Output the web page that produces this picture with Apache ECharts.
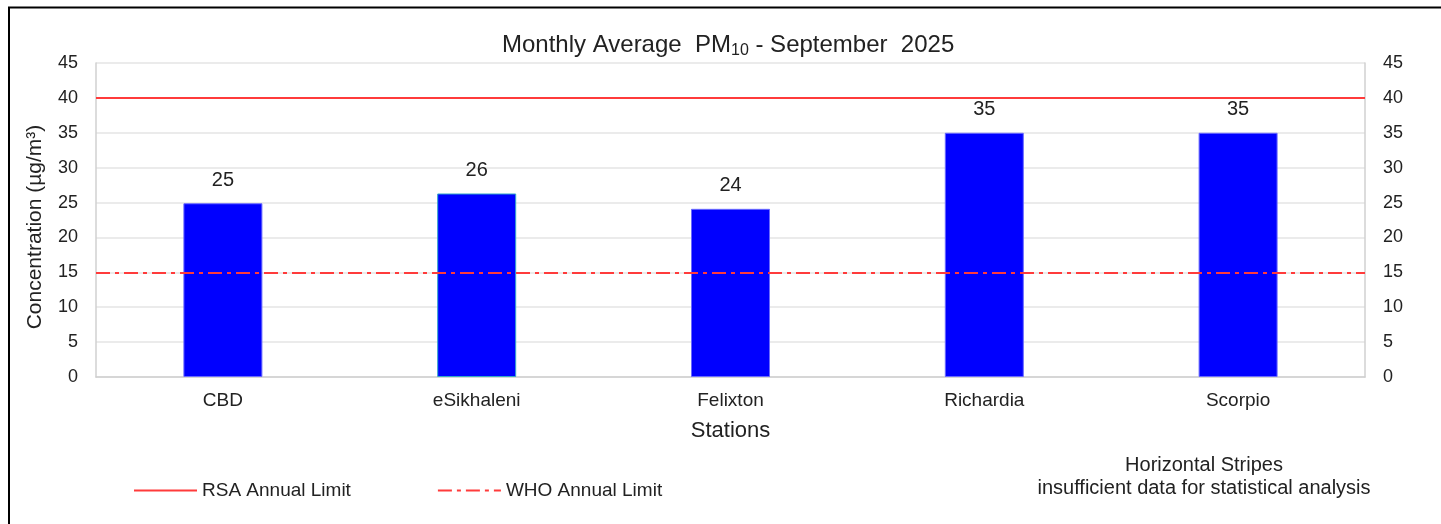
<!DOCTYPE html>
<html>
<head>
<meta charset="utf-8">
<script src="https://cdn.jsdelivr.net/npm/echarts@6/dist/echarts.min.js"></script>
<style>
  html, body { margin: 0; padding: 0; background: #fff; }
  #chart { width: 1441px; height: 524px; }
</style>
</head>
<body>
<div id="chart"></div>
<script>
const stations = ['CBD', 'eSikhaleni', 'Felixton', 'Richardia', 'Scorpio'];
const pm10 = [24.9, 26.3, 24.1, 35.0, 35.0];
const rsaLimit = 40;
const whoLimit = 15;
const yTicks = { min: 0, max: 45, interval: 5 };

const font = '"Liberation Sans", Arial, sans-serif';
const chart = echarts.init(document.getElementById('chart'));

const axisLabel = { color: '#222', fontSize: 18, fontFamily: font };

chart.setOption({
  textStyle: { fontFamily: font },
  animation: false,
  title: {
    text: '{t|Monthly Average  PM}{s|10}{t| - September  2025}',
    left: 497,
    top: 27,
    textStyle: {
      fontWeight: 'normal',
      rich: {
        t: { fontSize: 24, color: '#222', fontFamily: font, fontWeight: 'normal' },
        s: { fontSize: 16, color: '#222', fontFamily: font, fontWeight: 'normal', padding: [11, 0, 0, 0] }
      }
    }
  },
  grid: { left: 96, right: 76, top: 63, bottom: 147 },
  legend: {
    left: 128,
    top: 476,
    itemWidth: 63,
    itemHeight: 10,
    itemGap: 86,
    itemStyle: { opacity: 0 },
    textStyle: { color: '#222', fontSize: 19, fontFamily: font },
    data: ['RSA Annual Limit', 'WHO Annual Limit']
  },
  xAxis: {
    type: 'category',
    data: stations,
    name: 'Stations',
    nameLocation: 'middle',
    nameGap: 43,
    nameTextStyle: { color: '#222', fontSize: 22, fontFamily: font },
    axisLine: { lineStyle: { color: '#d0d0d0', width: 1.5 } },
    axisTick: { show: false },
    axisLabel: { ...axisLabel, fontSize: 19, margin: 14 }
  },
  yAxis: [
    {
      type: 'value',
      ...yTicks,
      name: 'Concentration (µg/m³)',
      nameLocation: 'middle',
      nameGap: 50,
      nameTextStyle: { color: '#222', fontSize: 21, fontFamily: font, padding: [0, 14, 0, 0] },
      axisLine: { show: true, lineStyle: { color: '#d0d0d0', width: 1.5 } },
      axisTick: { show: false },
      axisLabel: { ...axisLabel, margin: 18 },
      splitLine: { lineStyle: { color: '#e4e4e4', width: 1.5 } }
    },
    {
      type: 'value',
      ...yTicks,
      position: 'right',
      axisLine: { show: true, lineStyle: { color: '#d0d0d0', width: 1.5 } },
      axisTick: { show: false },
      axisLabel: { ...axisLabel, margin: 18 },
      splitLine: { show: false }
    }
  ],
  series: [
    {
      name: 'PM10',
      type: 'bar',
      data: pm10.map((v, i) => ({
        value: v,
        itemStyle: i === 1 ? { borderColor: '#35a7c9', borderWidth: 1 } : {}
      })),
      barWidth: 79,
      z: 2,
      itemStyle: { color: '#0000ff', borderColor: '#6a6aff', borderWidth: 1 },
      label: {
        show: true,
        position: 'top',
        distance: 13,
        color: '#222',
        fontSize: 20,
        fontFamily: font,
        formatter: p => Math.round(p.value)
      }
    },
    {
      name: 'RSA Annual Limit',
      type: 'line',
      data: stations.map(() => null),
      symbol: 'none',
      z: 5,
      lineStyle: { color: '#ff3b3b', width: 2 },
      itemStyle: { color: '#ff3b3b' },
      markLine: {
        silent: true,
        symbol: 'none',
        label: { show: false },
        lineStyle: { color: '#ff3b3b', width: 2, type: 'solid' },
        data: [{ yAxis: rsaLimit }]
      }
    },
    {
      name: 'WHO Annual Limit',
      type: 'line',
      data: stations.map(() => null),
      symbol: 'none',
      z: 5,
      lineStyle: { color: '#ff3b3b', width: 2, type: [14, 5, 4, 5] },
      itemStyle: { color: '#ff3b3b' },
      markLine: {
        silent: true,
        symbol: 'none',
        label: { show: false },
        lineStyle: { color: '#ff3b3b', width: 2, type: [14, 5, 4, 5] },
        data: [{ yAxis: whoLimit }]
      }
    }
  ],
  graphic: [
    {
      type: 'text',
      x: 1204,
      y: 454,
      style: {
        text: 'Horizontal Stripes\ninsufficient data for statistical analysis',
        align: 'center',
        fill: '#222',
        font: '20px ' + font,
        lineHeight: 23
      }
    },
    {
      type: 'polyline',
      shape: { points: [[9, 524], [9, 7.5], [1441, 7.5]] },
      style: { stroke: '#000', lineWidth: 2, fill: null }
    }
  ]
});
</script>
</body>
</html>
